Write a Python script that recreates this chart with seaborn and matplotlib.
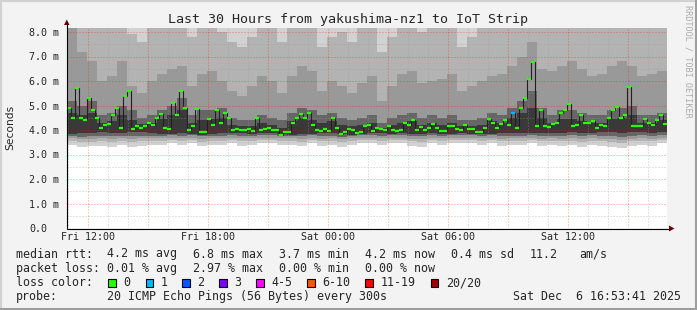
import numpy as np
import matplotlib
matplotlib.use("Agg")
import matplotlib.pyplot as plt
import seaborn as sns
from matplotlib.lines import Line2D
from matplotlib.patches import Polygon, Rectangle

# ---------------- data ----------------
title = "Last 30 Hours from yakushima-nz1 to IoT Strip"
x_tick_hours = [12, 18, 24, 30, 36]
x_tick_labels = ["Fri 12:00", "Fri 18:00", "Sat 00:00", "Sat 06:00", "Sat 12:00"]
y_ticks = [0, 1, 2, 3, 4, 5, 6, 7, 8]
y_tick_labels = ["0.0", "1.0 m", "2.0 m", "3.0 m", "4.0 m", "5.0 m", "6.0 m", "7.0 m", "8.0 m"]

start_hour = 10.935          # hours since Fri 00:00 at left edge
span_hours = 30.0
median_step_h = 0.2
smoke_step_h = 0.5

median_ms = [4.9, 4.5, 5.7, 4.5, 4.4, 5.3, 4.8, 4.5, 4.1, 4.2,
             4.25, 4.6, 4.9, 4.1, 5.4, 5.6, 4.05, 4.15, 4.1, 4.15,
             4.3, 4.2, 4.5, 4.65, 4.1, 4.05, 5.1, 4.6, 5.6, 4.9,
             4.0, 4.15, 4.85, 3.9, 3.9, 4.45, 4.2, 4.8, 4.3, 4.7,
             4.5, 4.0, 4.05, 4.0, 4.0, 4.05, 3.95, 4.5, 4.0, 4.05,
             4.1, 4.0, 4.0, 3.8, 3.92, 3.9, 4.3, 4.5, 4.65, 4.5,
             4.7, 4.2, 4.0, 3.97, 4.05, 3.97, 4.5, 4.1, 3.84, 3.93,
             4.05, 3.98, 3.86, 3.93, 4.15, 4.2, 3.97, 4.1, 4.03, 4.0,
             4.15, 4.0, 3.96, 4.02, 4.3, 4.2, 4.42, 4.02, 4.14, 4.0,
             4.1, 4.24, 4.1, 3.97, 3.95, 4.15, 4.15, 4.05, 4.0, 4.2,
             4.05, 4.05, 3.9, 3.93, 4.08, 4.45, 4.3, 4.08, 4.25, 4.4,
             4.2, 4.7, 4.1, 4.9, 5.3, 6.1, 6.78, 4.15, 4.8, 4.15,
             4.14, 4.25, 4.3, 4.7, 4.8, 5.05, 4.15, 4.2, 4.6, 4.28,
             4.3, 4.35, 4.1, 4.2, 4.16, 4.5, 4.8, 4.95, 4.5, 4.6,
             5.75, 4.18, 4.18, 4.15, 4.45, 4.3, 4.2, 4.4, 4.6, 4.25]
loss_count = [0] * 111 + [1] + [0] * 38

# smoke envelopes (ms), one value per half hour
smoke_lo = [3.4, 3.3, 3.35, 3.35, 3.3, 3.4, 3.3, 3.35, 3.4, 3.4,
            3.45, 3.4, 3.45, 3.35, 3.4, 3.4, 3.45, 3.35, 3.4, 3.45,
            3.45, 3.4, 3.4, 3.35, 3.45, 3.35, 3.4, 3.3, 3.4, 3.45,
            3.45, 3.4, 3.45, 3.45, 3.35, 3.3, 3.45, 3.4, 3.45, 3.45,
            3.45, 3.4, 3.45, 3.35, 3.4, 3.4, 3.45, 3.35, 3.4, 3.35,
            3.4, 3.3, 3.4, 3.35, 3.3, 3.25, 3.35, 3.4, 3.35, 3.45]
smoke_lo_b = [3.55, 3.5, 3.52, 3.55, 3.5, 3.55, 3.52, 3.55, 3.56, 3.55,
              3.58, 3.55, 3.58, 3.52, 3.55, 3.56, 3.58, 3.55, 3.56, 3.58,
              3.58, 3.55, 3.55, 3.52, 3.58, 3.54, 3.56, 3.5, 3.55, 3.58,
              3.58, 3.56, 3.58, 3.58, 3.54, 3.52, 3.58, 3.56, 3.58, 3.58,
              3.58, 3.56, 3.58, 3.54, 3.56, 3.56, 3.58, 3.54, 3.56, 3.54,
              3.56, 3.5, 3.56, 3.54, 3.52, 3.48, 3.54, 3.56, 3.54, 3.58]
smoke_lo_c = [3.66, 3.62, 3.64, 3.66, 3.62, 3.66, 3.64, 3.66, 3.67, 3.66,
              3.69, 3.66, 3.69, 3.64, 3.66, 3.67, 3.69, 3.66, 3.67, 3.69,
              3.69, 3.66, 3.66, 3.64, 3.69, 3.65, 3.67, 3.62, 3.66, 3.69,
              3.69, 3.67, 3.69, 3.69, 3.65, 3.64, 3.69, 3.67, 3.69, 3.69,
              3.69, 3.67, 3.69, 3.65, 3.67, 3.67, 3.69, 3.65, 3.67, 3.65,
              3.67, 3.62, 3.67, 3.65, 3.64, 3.6, 3.65, 3.67, 3.65, 3.69]
smoke_lo_d = [3.76, 3.73, 3.75, 3.77, 3.74, 3.76, 3.75, 3.77, 3.77, 3.76,
              3.79, 3.77, 3.79, 3.74, 3.76, 3.77, 3.79, 3.77, 3.77, 3.79,
              3.79, 3.77, 3.76, 3.75, 3.79, 3.76, 3.77, 3.73, 3.76, 3.79,
              3.79, 3.77, 3.79, 3.79, 3.76, 3.75, 3.79, 3.77, 3.79, 3.79,
              3.79, 3.77, 3.79, 3.76, 3.77, 3.77, 3.79, 3.76, 3.77, 3.76,
              3.78, 3.74, 3.78, 3.76, 3.75, 3.72, 3.76, 3.78, 3.76, 3.79]
smoke_lo_e = [3.85, 3.88, 3.86, 3.9, 3.88, 3.86, 3.9, 3.9, 3.86, 3.85,
              3.85, 3.86, 3.82, 3.8, 3.84, 3.86, 3.88, 3.86, 3.85, 3.88,
              3.86, 3.84, 3.8, 3.82, 3.85, 3.86, 3.86, 3.82, 3.8, 3.84,
              3.86, 3.86, 3.84, 3.86, 3.85, 3.84, 3.86, 3.84, 3.85, 3.86,
              3.84, 3.82, 3.84, 3.86, 3.86, 3.88, 3.88, 3.86, 3.88, 3.88,
              3.9, 3.88, 3.88, 3.9, 3.9, 3.88, 3.9, 3.9, 3.88, 3.9]
smoke_hi_e = [4.7, 4.6, 4.7, 4.3, 4.35, 4.6, 4.4, 4.25, 4.3, 4.45,
              4.6, 4.8, 4.3, 4.4, 4.45, 4.5, 4.2, 4.15, 4.15, 4.3,
              4.2, 4.1, 4.35, 4.5, 4.4, 4.3, 4.35, 4.2, 4.15, 4.2,
              4.3, 4.1, 4.2, 4.3, 4.35, 4.2, 4.3, 4.2, 4.3, 4.15,
              4.15, 4.2, 4.35, 4.3, 4.5, 4.7, 4.9, 4.5, 4.3, 4.45,
              4.45, 4.35, 4.3, 4.3, 4.45, 4.5, 4.6, 4.3, 4.3, 4.4]
smoke_hi_d = [5.2, 5.0, 5.2, 4.6, 4.7, 5.0, 4.8, 4.5, 4.6, 4.8,
              5.0, 5.3, 4.6, 4.8, 4.8, 4.9, 4.5, 4.4, 4.4, 4.6,
              4.5, 4.4, 4.7, 4.9, 4.8, 4.6, 4.7, 4.5, 4.4, 4.5,
              4.6, 4.3, 4.5, 4.6, 4.7, 4.5, 4.6, 4.5, 4.6, 4.4,
              4.4, 4.5, 4.7, 4.6, 4.9, 5.2, 5.6, 4.9, 4.6, 4.8,
              4.8, 4.7, 4.6, 4.6, 4.8, 4.9, 5.0, 4.6, 4.6, 4.7]
smoke_hi_c = [8.4, 7.2, 6.8, 6.0, 6.2, 6.8, 5.8, 5.5, 6.0, 6.3,
              6.5, 6.6, 5.8, 6.3, 6.4, 6.0, 5.6, 5.4, 5.8, 6.2,
              6.0, 5.5, 6.2, 6.6, 6.4, 5.6, 6.0, 5.8, 5.5, 5.9,
              6.2, 5.2, 5.8, 6.3, 6.4, 5.9, 6.0, 6.1, 6.3, 5.6,
              5.8, 6.0, 6.2, 6.3, 6.6, 7.0, 7.6, 6.5, 6.4, 6.6,
              6.8, 6.5, 6.2, 6.3, 6.6, 6.8, 6.6, 6.2, 6.3, 6.4]
smoke_hi_b = [9.0, 9.0, 8.5, 8.2, 8.4, 9.0, 7.9, 7.6, 8.2, 8.5,
              8.5, 8.5, 7.8, 8.2, 8.6, 8.0, 7.6, 7.4, 7.8, 8.3,
              8.2, 7.6, 8.4, 8.8, 8.5, 7.4, 7.8, 8.0, 7.6, 8.2,
              8.3, 7.2, 7.8, 8.4, 8.5, 8.0, 8.2, 8.4, 8.5, 7.4,
              7.8, 8.2, 8.3, 8.5, 8.8, 9.0, 9.0, 8.6, 8.8, 8.8,
              9.0, 8.8, 8.5, 8.6, 8.8, 9.0, 8.8, 8.4, 8.5, 8.6]

loss_labels = ["0", "1", "2", "3", "4-5", "6-10", "11-19", "20/20"]
loss_colors = ["#26ff00", "#00b8ff", "#0059ff", "#7e00ff", "#ff00ff", "#ff5500", "#ff0000", "#a10000"]

rtt_stats = ["4.2 ms avg", "6.8 ms max", "3.7 ms min", "4.2 ms now", "0.4 ms sd", "11.2", "am/s"]
loss_stats = ["0.01 % avg", "2.97 % max", "0.00 % min", "0.00 % now"]
probe_text = "20 ICMP Echo Pings (56 Bytes) every 300s"
stamp_text = "Sat Dec  6 16:53:41 2025"

# ---------------- figure ----------------
sns.set_style("white")
MONO = ["DejaVu Sans Mono"]
plt.rcParams["font.family"] = MONO

W, H = 697, 310
fig = plt.figure(figsize=(W / 100, H / 100), dpi=100, facecolor="#f3f3f3")


def fx(px):
    return px / W


def fy(py):
    return 1 - py / H


px_per_ms = 24.5
ax = fig.add_axes([fx(67), fy(228), 600 / W, 200 / H])
ax.set_facecolor("white")
ymax = 200 / px_per_ms
ax.set_xlim(start_hour, start_hour + span_hours)
ax.set_ylim(0, ymax)
for s in ax.spines.values():
    s.set_visible(False)

# smoke
sm_edges = start_hour + smoke_step_h * np.arange(len(smoke_lo) + 1)


def ext(a):
    a = np.asarray(a, dtype=float)
    return np.append(a, a[-1])


top = np.full(len(sm_edges), ymax + 1)
layers = [
    (smoke_lo, None, "#d2d2d2"),
    (smoke_lo_b, smoke_hi_b, "#b3b3b3"),
    (smoke_lo_c, smoke_hi_c, "#999999"),
    (smoke_lo_d, smoke_hi_d, "#666666"),
    (smoke_lo_e, smoke_hi_e, "#393939"),
]
for lo, hi, col in layers:
    upper = top if hi is None else ext(hi)
    ax.fill_between(sm_edges, ext(lo), upper, step="post", color=col,
                    linewidth=0, zorder=1)

# grid (drawn over the smoke)
dot = (0, (1, 2))
minor_y = np.arange(0.5, 8.0, 1.0)
major_y = np.arange(1, 9, 1)
minor_x = np.arange(11, 41, 1)
major_x = np.arange(12, 41, 3)
ax.hlines(minor_y, start_hour, start_hour + span_hours, colors="#9a9a9a", alpha=0.55,
          lw=0.72, linestyles=dot, zorder=2)
ax.vlines([h for h in minor_x if h % 3 != 0], 0, ymax, colors="#9a9a9a", alpha=0.55,
          lw=0.72, linestyles=dot, zorder=2)
ax.hlines(major_y, start_hour, start_hour + span_hours, colors="#ff0000", alpha=0.42,
          lw=0.72, linestyles=dot, zorder=3)
ax.vlines(major_x, 0, ymax, colors="#ff0000", alpha=0.42,
          lw=0.72, linestyles=dot, zorder=3)

# median
md_edges = start_hour + median_step_h * np.arange(len(median_ms) + 1)
sns.lineplot(x=md_edges, y=ext(median_ms), drawstyle="steps-post", color="#202020",
             lw=0.8, estimator=None, sort=False, legend=False, ax=ax, zorder=4)
seg_cols = [loss_colors[min(c, 1)] if c < 2 else loss_colors[2] for c in loss_count]
ax.hlines(median_ms, md_edges[:-1], md_edges[1:], colors=seg_cols, lw=1.6, zorder=5)

# ticks
ax.set_xticks(x_tick_hours)
ax.set_xticklabels(x_tick_labels, fontsize=7.2, family=MONO)
ax.set_yticks(y_ticks)
ax.set_yticklabels(y_tick_labels, fontsize=7.2, family=MONO)
ax.tick_params(axis="x", length=0, pad=2.8)
ax.tick_params(axis="y", length=0, pad=27.1)
for lbl in ax.get_yticklabels():
    lbl.set_horizontalalignment("left")
ax.set_xlabel("")
ax.set_ylabel("")

# axes lines and arrows
fig.add_artist(Line2D([fx(66.5), fx(66.5)], [fy(228), fy(22)], color="black", lw=0.8))
fig.add_artist(Line2D([fx(66.5), fx(670)], [fy(228.5), fy(228.5)], color="black", lw=0.8))
fig.add_artist(Polygon([[fx(64), fy(25)], [fx(69.5), fy(25)], [fx(66.75), fy(19.5)]],
                       closed=True, color="#800000", lw=0))
fig.add_artist(Polygon([[fx(669), fy(225.5)], [fx(669), fy(231.5)], [fx(674.5), fy(228.5)]],
                       closed=True, color="#800000", lw=0))

# texts
fig.text(fx(347.5), fy(19), title, ha="center", va="center", fontsize=9.6, family=MONO)
fig.text(fx(10), fy(127), "Seconds", rotation=90, ha="center", va="center",
         fontsize=7.7, family=["DejaVu Sans"])
fig.text(fx(688), fy(5), "RRDTOOL / TOBI OETIKER", rotation=270, ha="center", va="top",
         fontsize=6.1, color="#ababab", family=MONO)

FS = 8.35
row_y = [254, 268.3, 282.7, 296.7]
stat_x = [107.3, 193.3, 279.3, 365, 451, 530, 579]
fig.text(fx(16), fy(row_y[0]), "median rtt:", ha="left", va="center", fontsize=FS)
for s, x in zip(rtt_stats, stat_x):
    fig.text(fx(x), fy(row_y[0]), s, ha="left", va="center", fontsize=FS)
fig.text(fx(16), fy(row_y[1]), "packet loss:", ha="left", va="center", fontsize=FS)
for s, x in zip(loss_stats, stat_x):
    fig.text(fx(x), fy(row_y[1]), s, ha="left", va="center", fontsize=FS)
fig.text(fx(16), fy(row_y[2]), "loss color:", ha="left", va="center", fontsize=FS)
box_x = [108.3, 145.7, 182.3, 219.3, 256, 307.3, 365.3, 430.7]
for lab, col, bx in zip(loss_labels, loss_colors, box_x):
    fig.add_artist(Rectangle((fx(bx), fy(row_y[2] + 4)), 7.5 / W, 8 / H,
                             facecolor=col, edgecolor="black", lw=0.8))
    fig.text(fx(bx + 15), fy(row_y[2]), lab, ha="left", va="center", fontsize=FS)
fig.text(fx(16), fy(row_y[3]), "probe:", ha="left", va="center", fontsize=FS)
fig.text(fx(107.3), fy(row_y[3]), probe_text, ha="left", va="center", fontsize=FS)
fig.text(fx(513.3), fy(row_y[3]), stamp_text, ha="left", va="center", fontsize=FS)

# outer frame
fig.add_artist(Line2D([0, 1], [fy(0.5), fy(0.5)], color="#d2d2d2", lw=1.5))
fig.add_artist(Line2D([fx(0.5), fx(0.5)], [0, 1], color="#d2d2d2", lw=1.5))
fig.add_artist(Line2D([0, 1], [fy(309), fy(309)], color="#9e9e9e", lw=2.2))
fig.add_artist(Line2D([fx(696), fx(696)], [0, 1], color="#9e9e9e", lw=2.2))

fig.savefig("out.png", dpi=100, facecolor=fig.get_facecolor())
